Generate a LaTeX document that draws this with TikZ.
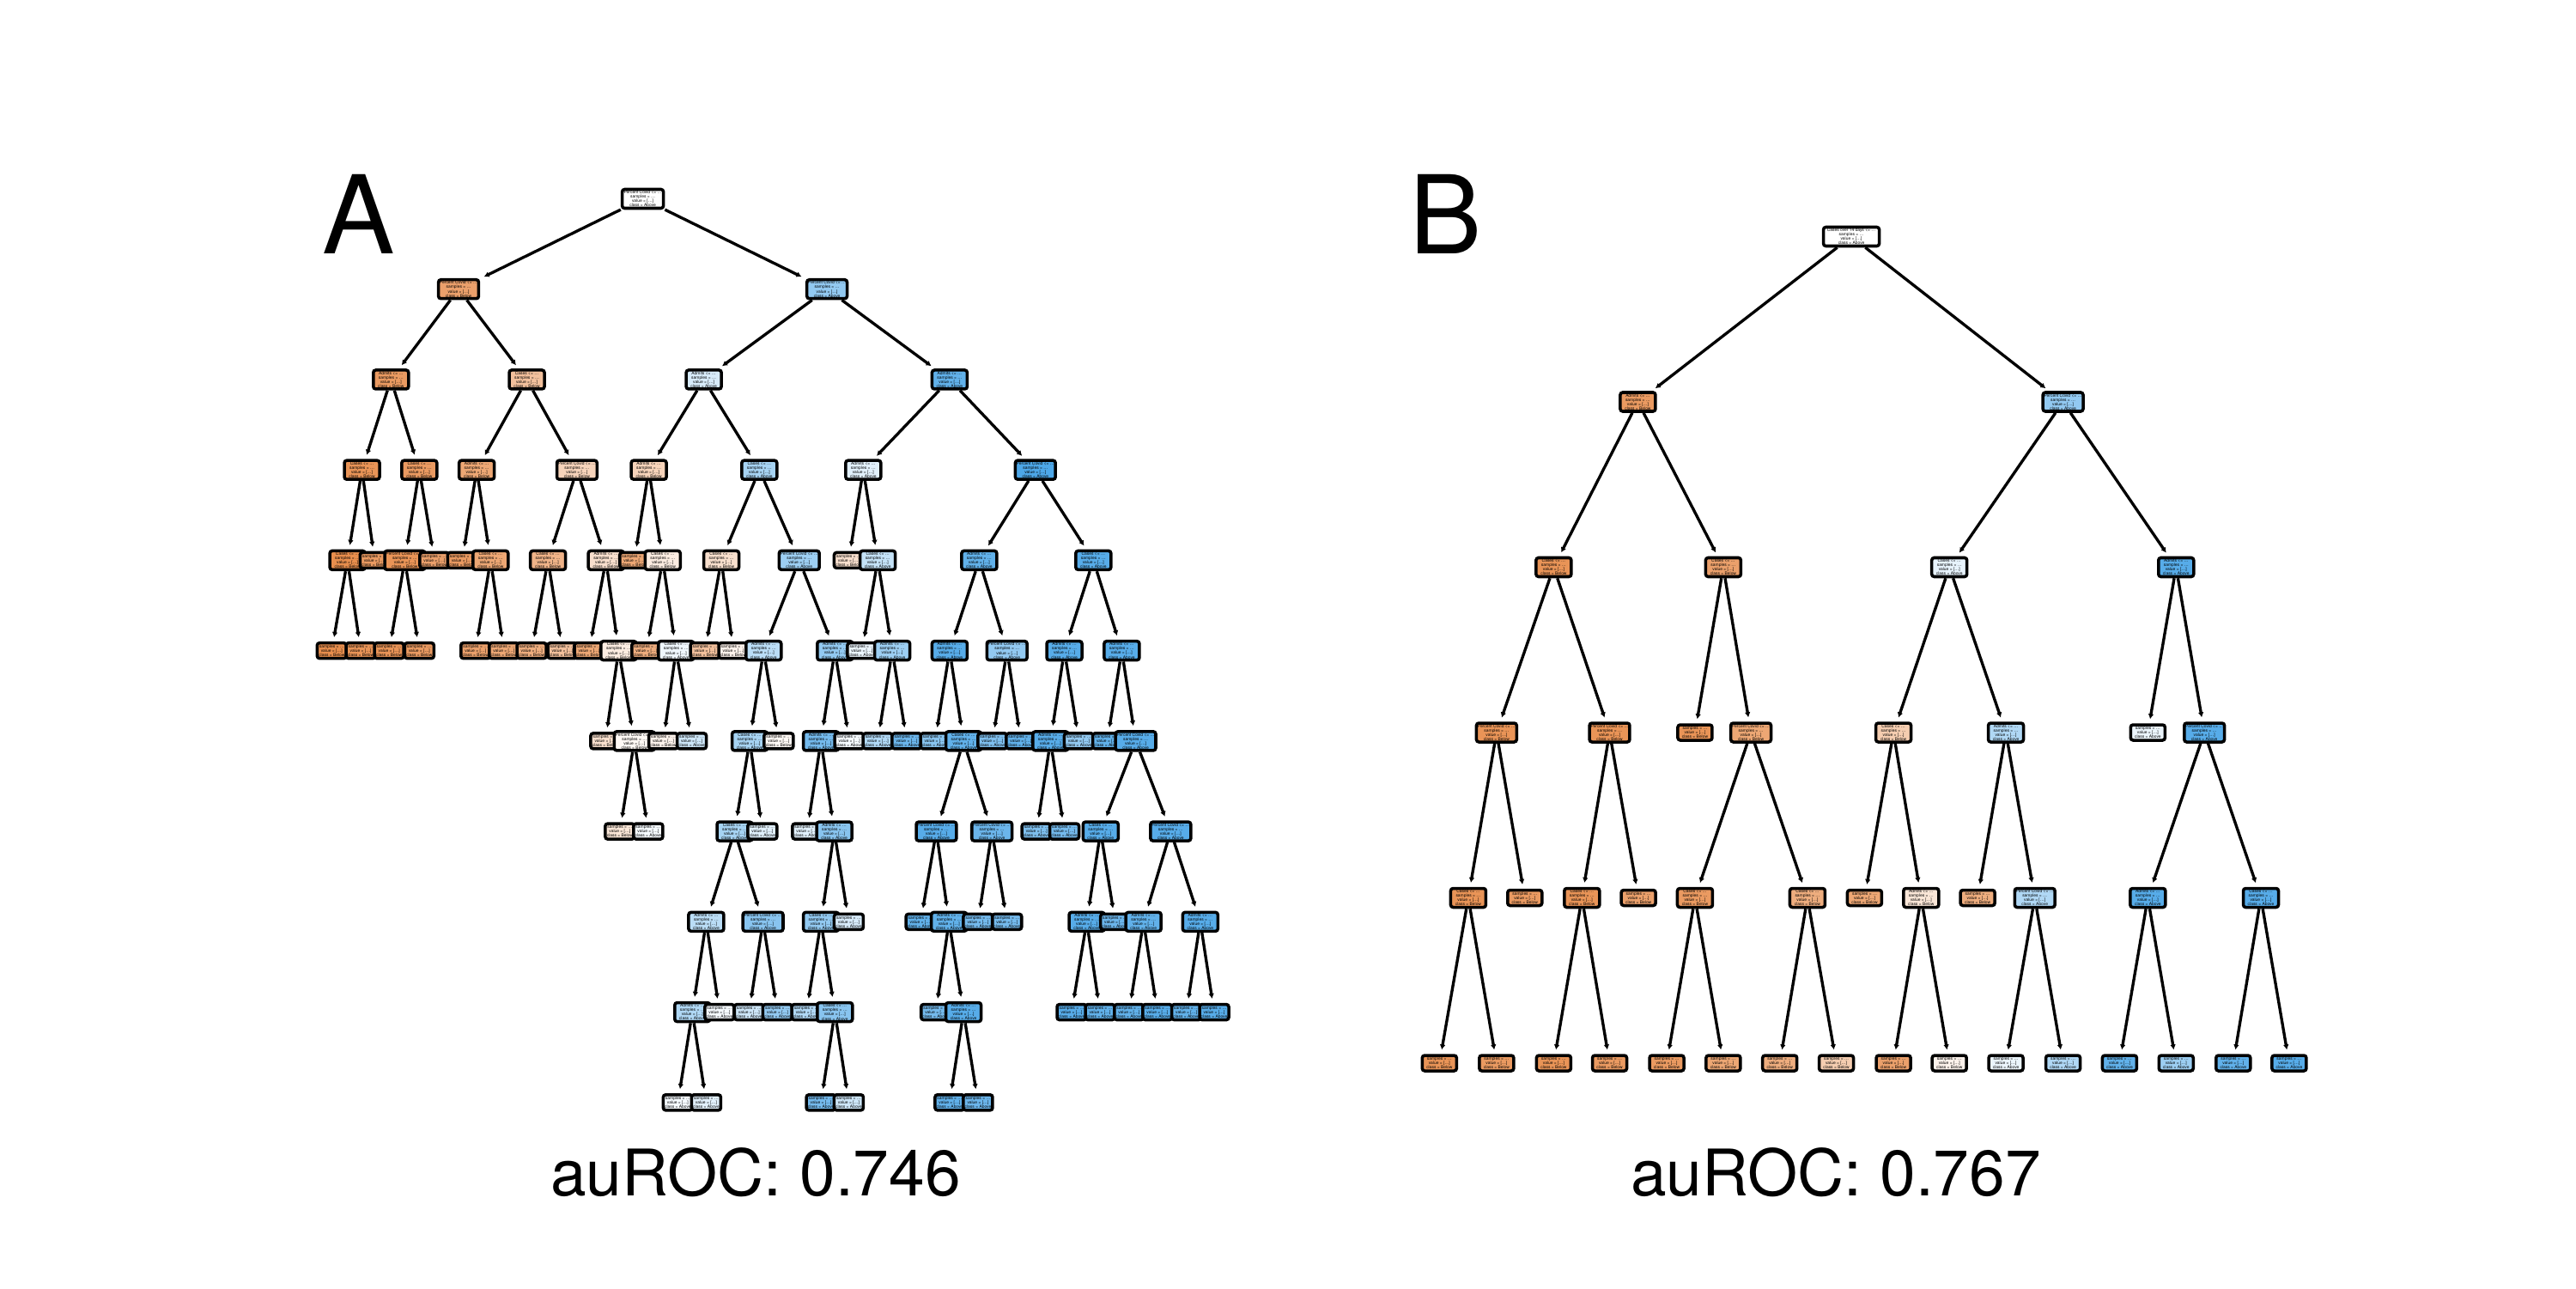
\documentclass[tikz,border=0pt]{standalone}
\usepackage{fontspec}
\setmainfont{TeX Gyre Heros}
\usetikzlibrary{arrows.meta}
\definecolor{oc}{RGB}{229,129,57}
\definecolor{bc}{RGB}{57,157,229}
\newcommand{\tsplit}[2]{#1 <= …\\samples = …\\value = […]\\class = #2}
\newcommand{\tleaf}[1]{samples = …\\value = […]\\class = #1}
\begin{document}
\begin{tikzpicture}[
        base/.style={draw,line width=1pt,rounded corners=0.8pt,inner xsep=0.4pt,inner ysep=0.3pt,
            align=center,font=\fontsize{1.4}{1.45}\selectfont},
        split/.style={base,minimum width=0.41cm,minimum height=0.22cm},
        leaf/.style={base,minimum width=0.34cm,minimum height=0.18cm},
        link/.style={-{Latex[length=1.7pt,width=1.9pt]},line width=0.95pt,shorten >=1.4pt},
        panel/.style={font=\fontsize{36}{36}\selectfont,anchor=base,inner sep=0pt},
        score/.style={font=\fontsize{21.3}{21.3}\selectfont,anchor=base,inner sep=0pt}]
    \useasboundingbox (0,0) rectangle (30,15);

    % Panel labels and scores
    \node[panel] (labA) at (4.175,12.04) {A};
    \node[panel] (labB) at (16.84,12.04) {B};
    \node[score] (aucA) at (8.80,1.08) {auROC: 0.746};
    \node[score] (aucB) at (21.38,1.08) {auROC: 0.767};

    % Tree A, depth-first order, one row per level
    \begin{scope}[shift={(3.568,12.685)},x=0.0070334cm,y=-1.0523cm]
        \node[split,fill=white,minimum width=0.48cm] (a0) at (557,0) {\tsplit{Percent Covid}{Above}};
        \foreach \nm/\xx/\lv/\up/\kind/\col/\txt in {
            a1/252/1/a0/split/oc!75/{\tsplit{Percent Covid}{Below}},
            a2/140/2/a1/split/oc!80/{\tsplit{Admits}{Below}},
            a3/92/3/a2/split/oc!85/{\tsplit{Cases}{Below}},
            a4/68/4/a3/split/oc!90/{\tsplit{Cases}{Below}},
            a5/42/5/a4/leaf/oc!90/{\tleaf{Below}},
            a6/90/5/a4/leaf/oc!85/{\tleaf{Below}},
            a7/113/4/a3/leaf/oc!80/{\tleaf{Below}},
            a8/187/3/a2/split/oc!80/{\tsplit{Cases}{Below}},
            a9/163/4/a8/split/oc!85/{\tsplit{Percent Covid}{Below}},
            a10/137/5/a9/leaf/oc!85/{\tleaf{Below}},
            a11/187/5/a9/leaf/oc!80/{\tleaf{Below}},
            a12/212/4/a8/leaf/oc!75/{\tleaf{Below}},
            a13/365/2/a1/split/oc!50/{\tsplit{Cases}{Below}},
            a14/282/3/a13/split/oc!70/{\tsplit{Admits}{Below}},
            a15/258/4/a14/leaf/oc!80/{\tleaf{Below}},
            a16/305/4/a14/split/oc!70/{\tsplit{Cases}{Below}},
            a17/280/5/a16/leaf/oc!75/{\tleaf{Below}},
            a18/327/5/a16/leaf/oc!70/{\tleaf{Below}},
            a19/448/3/a13/split/oc!35/{\tsplit{Percent Covid}{Below}},
            a20/400/4/a19/split/oc!60/{\tsplit{Cases}{Below}},
            a21/373/5/a20/leaf/oc!65/{\tleaf{Below}},
            a22/424/5/a20/leaf/oc!50/{\tleaf{Below}},
            a23/496/4/a19/split/oc!25/{\tsplit{Admits}{Below}},
            a24/468/5/a23/leaf/oc!70/{\tleaf{Below}},
            a25/517/5/a23/split/oc!15/{\tsplit{Cases}{Below}},
            a26/495/6/a25/leaf/oc!25/{\tleaf{Below}},
            a27/543/6/a25/split/oc!5/{\tsplit{Percent Covid}{Below}},
            a28/519/7/a27/leaf/oc!20/{\tleaf{Below}},
            a29/566/7/a27/leaf/bc!5/{\tleaf{Above}},
            a30/862/1/a0/split/bc!55/{\tsplit{Percent Covid}{Above}},
            a31/658/2/a30/split/bc!20/{\tsplit{Admits}{Above}},
            a32/567/3/a31/split/oc!35/{\tsplit{Admits}{Below}},
            a33/543/4/a32/leaf/oc!70/{\tleaf{Below}},
            a34/590/4/a32/split/oc!15/{\tsplit{Cases}{Below}},
            a35/563/5/a34/leaf/oc!65/{\tleaf{Below}},
            a36/612/5/a34/split/bc!8/{\tsplit{Cases}{Above}},
            a37/591/6/a36/leaf/oc!10/{\tleaf{Below}},
            a38/638/6/a36/leaf/bc!25/{\tleaf{Above}},
            a39/750/3/a31/split/bc!45/{\tsplit{Cases}{Above}},
            a40/687/4/a39/split/oc!25/{\tsplit{Cases}{Below}},
            a41/660/5/a40/leaf/oc!50/{\tleaf{Below}},
            a42/707/5/a40/leaf/oc!10/{\tleaf{Below}},
            a43/816/4/a39/split/bc!50/{\tsplit{Percent Covid}{Above}},
            a44/757/5/a43/split/bc!35/{\tsplit{Admits}{Above}},
            a45/734/6/a44/split/bc!45/{\tsplit{Cases}{Above}},
            a46/709/7/a45/split/bc!45/{\tsplit{Cases}{Above}},
            a47/662/8/a46/split/bc!35/{\tsplit{Admits}{Above}},
            a48/639/9/a47/split/bc!40/{\tsplit{Admits}{Above}},
            a49/615/10/a48/leaf/bc!5/{\tleaf{Above}},
            a50/662/10/a48/leaf/bc!15/{\tleaf{Above}},
            a51/684/9/a47/leaf/bc!5/{\tleaf{Above}},
            a52/756/8/a46/split/bc!60/{\tsplit{Percent Covid}{Above}},
            a53/733/9/a52/leaf/bc!25/{\tleaf{Above}},
            a54/780/9/a52/leaf/bc!55/{\tleaf{Above}},
            a55/755/7/a45/leaf/bc!15/{\tleaf{Above}},
            a56/782/6/a44/leaf/oc!5/{\tleaf{Below}},
            a57/875/5/a43/split/bc!55/{\tsplit{Admits}{Above}},
            a58/852/6/a57/split/bc!70/{\tsplit{Admits}{Above}},
            a59/829/7/a58/leaf/bc!15/{\tleaf{Above}},
            a60/874/7/a58/split/bc!60/{\tsplit{Admits}{Above}},
            a61/852/8/a60/split/bc!55/{\tsplit{Cases}{Above}},
            a62/828/9/a61/leaf/bc!40/{\tleaf{Above}},
            a63/875/9/a61/split/bc!60/{\tsplit{Cases}{Above}},
            a64/852/10/a63/leaf/bc!70/{\tleaf{Above}},
            a65/898/10/a63/leaf/bc!25/{\tleaf{Above}},
            a66/898/8/a60/leaf/bc!20/{\tleaf{Above}},
            a67/899/6/a57/leaf/bc!5/{\tleaf{Above}},
            a68/1065/2/a30/split/bc!80/{\tsplit{Admits}{Above}},
            a69/922/3/a68/split/bc!15/{\tsplit{Admits}{Above}},
            a70/898/4/a69/leaf/oc!25/{\tleaf{Below}},
            a71/946/4/a69/split/bc!30/{\tsplit{Cases}{Above}},
            a72/920/5/a71/leaf/bc!10/{\tleaf{Above}},
            a73/970/5/a71/split/bc!50/{\tsplit{Admits}{Above}},
            a74/946/6/a73/leaf/bc!40/{\tleaf{Above}},
            a75/994/6/a73/leaf/bc!75/{\tleaf{Above}},
            a76/1207/3/a68/split/bc!90/{\tsplit{Percent Covid}{Above}},
            a77/1114/4/a76/split/bc!80/{\tsplit{Admits}{Above}},
            a78/1065/5/a77/split/bc!85/{\tsplit{Admits}{Above}},
            a79/1041/6/a78/leaf/bc!60/{\tleaf{Above}},
            a80/1088/6/a78/split/bc!80/{\tsplit{Cases}{Above}},
            a81/1043/7/a80/split/bc!85/{\tsplit{Percent Covid}{Above}},
            a82/1017/8/a81/leaf/bc!80/{\tleaf{Above}},
            a83/1064/8/a81/split/bc!80/{\tsplit{Admits}{Above}},
            a84/1042/9/a83/leaf/bc!70/{\tleaf{Above}},
            a85/1088/9/a83/split/bc!85/{\tsplit{Admits}{Above}},
            a86/1065/10/a85/leaf/bc!80/{\tleaf{Above}},
            a87/1112/10/a85/leaf/bc!75/{\tleaf{Above}},
            a88/1135/7/a80/split/bc!75/{\tsplit{Percent Covid}{Above}},
            a89/1112/8/a88/leaf/bc!70/{\tleaf{Above}},
            a90/1160/8/a88/leaf/bc!70/{\tleaf{Above}},
            a91/1160/5/a77/split/bc!55/{\tsplit{Percent Covid}{Above}},
            a92/1136/6/a91/leaf/bc!65/{\tleaf{Above}},
            a93/1183/6/a91/leaf/bc!80/{\tleaf{Above}},
            a94/1303/4/a76/split/bc!85/{\tsplit{Cases}{Above}},
            a95/1255/5/a94/split/bc!85/{\tsplit{Admits}{Above}},
            a96/1232/6/a95/split/bc!85/{\tsplit{Admits}{Above}},
            a97/1209/7/a96/leaf/bc!65/{\tleaf{Above}},
            a98/1255/7/a96/leaf/bc!70/{\tleaf{Above}},
            a99/1279/6/a95/leaf/bc!55/{\tleaf{Above}},
            a100/1350/5/a94/split/bc!85/{\tsplit{Admits}{Above}},
            a101/1326/6/a100/leaf/bc!80/{\tleaf{Above}},
            a102/1373/6/a100/split/bc!85/{\tsplit{Percent Covid}{Above}},
            a103/1315/7/a102/split/bc!85/{\tsplit{Cases}{Above}},
            a104/1292/8/a103/split/bc!85/{\tsplit{Admits}{Above}},
            a105/1267/9/a104/leaf/bc!85/{\tleaf{Above}},
            a106/1314/9/a104/leaf/bc!80/{\tleaf{Above}},
            a107/1339/8/a103/leaf/bc!75/{\tleaf{Above}},
            a108/1431/7/a102/split/bc!85/{\tsplit{Percent Covid}{Above}},
            a109/1386/8/a108/split/bc!80/{\tsplit{Admits}{Above}},
            a110/1362/9/a109/leaf/bc!80/{\tleaf{Above}},
            a111/1409/9/a109/leaf/bc!85/{\tleaf{Above}},
            a112/1480/8/a108/split/bc!85/{\tsplit{Admits}{Above}},
            a113/1457/9/a112/leaf/bc!80/{\tleaf{Above}},
            a114/1503/9/a112/leaf/bc!85/{\tleaf{Above}}} {
            \node[\kind,fill=\col] (\nm) at (\xx,\lv) {\txt};
            \draw[link] (\up) -- (\nm);
        }
    \end{scope}

    % Tree B, same scheme with wider leaves
    \begin{scope}[shift={(16.413,12.245)},x=0.0070085cm,y=-1.925cm,leaf/.append style={minimum width=0.40cm}]
        \node[split,fill=white,minimum width=0.65cm] (b0) at (735,0) {\tsplit{Cases over 14 days}{Above}};
        \foreach \nm/\xx/\lv/\up/\kind/\col/\txt in {
            b1/380/1/b0/split/oc!80/{\tsplit{Admits}{Below}},
            b2/240/2/b1/split/oc!85/{\tsplit{Cases}{Below}},
            b3/145/3/b2/split/oc!85/{\tsplit{Percent Covid}{Below}},
            b4/98/4/b3/split/oc!85/{\tsplit{Cases}{Below}},
            b5/50/5/b4/leaf/oc!85/{\tleaf{Below}},
            b6/145/5/b4/leaf/oc!80/{\tleaf{Below}},
            b7/192/4/b3/leaf/oc!80/{\tleaf{Below}},
            b8/333/3/b2/split/oc!85/{\tsplit{Percent Covid}{Below}},
            b9/287/4/b8/split/oc!85/{\tsplit{Cases}{Below}},
            b10/240/5/b9/leaf/oc!85/{\tleaf{Below}},
            b11/333/5/b9/leaf/oc!80/{\tleaf{Below}},
            b12/381/4/b8/leaf/oc!75/{\tleaf{Below}},
            b13/522/2/b1/split/oc!75/{\tsplit{Cases}{Below}},
            b14/475/3/b13/leaf/oc!85/{\tleaf{Below}},
            b15/568/3/b13/split/oc!70/{\tsplit{Percent Covid}{Below}},
            b16/475/4/b15/split/oc!80/{\tsplit{Cases}{Below}},
            b17/428/5/b16/leaf/oc!80/{\tleaf{Below}},
            b18/522/5/b16/leaf/oc!70/{\tleaf{Below}},
            b19/662/4/b15/split/oc!65/{\tsplit{Cases}{Below}},
            b20/616/5/b19/leaf/oc!65/{\tleaf{Below}},
            b21/710/5/b19/leaf/oc!40/{\tleaf{Below}},
            b22/1087/1/b0/split/bc!55/{\tsplit{Percent Covid}{Above}},
            b23/898/2/b22/split/bc!12/{\tsplit{Cases}{Above}},
            b24/805/3/b23/split/oc!40/{\tsplit{Cases}{Below}},
            b25/757/4/b24/leaf/oc!70/{\tleaf{Below}},
            b26/851/4/b24/split/oc!20/{\tsplit{Admits}{Below}},
            b27/805/5/b26/leaf/oc!75/{\tleaf{Below}},
            b28/898/5/b26/leaf/oc!10/{\tleaf{Below}},
            b29/992/3/b23/split/bc!40/{\tsplit{Admits}{Above}},
            b30/945/4/b29/leaf/oc!65/{\tleaf{Below}},
            b31/1040/4/b29/split/bc!40/{\tsplit{Percent Covid}{Above}},
            b32/992/5/b31/leaf/bc!10/{\tleaf{Above}},
            b33/1087/5/b31/leaf/bc!40/{\tleaf{Above}},
            b34/1275/2/b22/split/bc!85/{\tsplit{Admits}{Above}},
            b35/1228/3/b34/leaf/bc!10/{\tleaf{Above}},
            b36/1322/3/b34/split/bc!85/{\tsplit{Percent Covid}{Above}},
            b37/1228/4/b36/split/bc!85/{\tsplit{Admits}{Above}},
            b38/1181/5/b37/leaf/bc!80/{\tleaf{Above}},
            b39/1275/5/b37/leaf/bc!50/{\tleaf{Above}},
            b40/1416/4/b36/split/bc!85/{\tsplit{Cases}{Above}},
            b41/1370/5/b40/leaf/bc!80/{\tleaf{Above}},
            b42/1463/5/b40/leaf/bc!85/{\tleaf{Above}}} {
            \node[\kind,fill=\col] (\nm) at (\xx,\lv) {\txt};
            \draw[link] (\up) -- (\nm);
        }
    \end{scope}
\end{tikzpicture}
\end{document}
